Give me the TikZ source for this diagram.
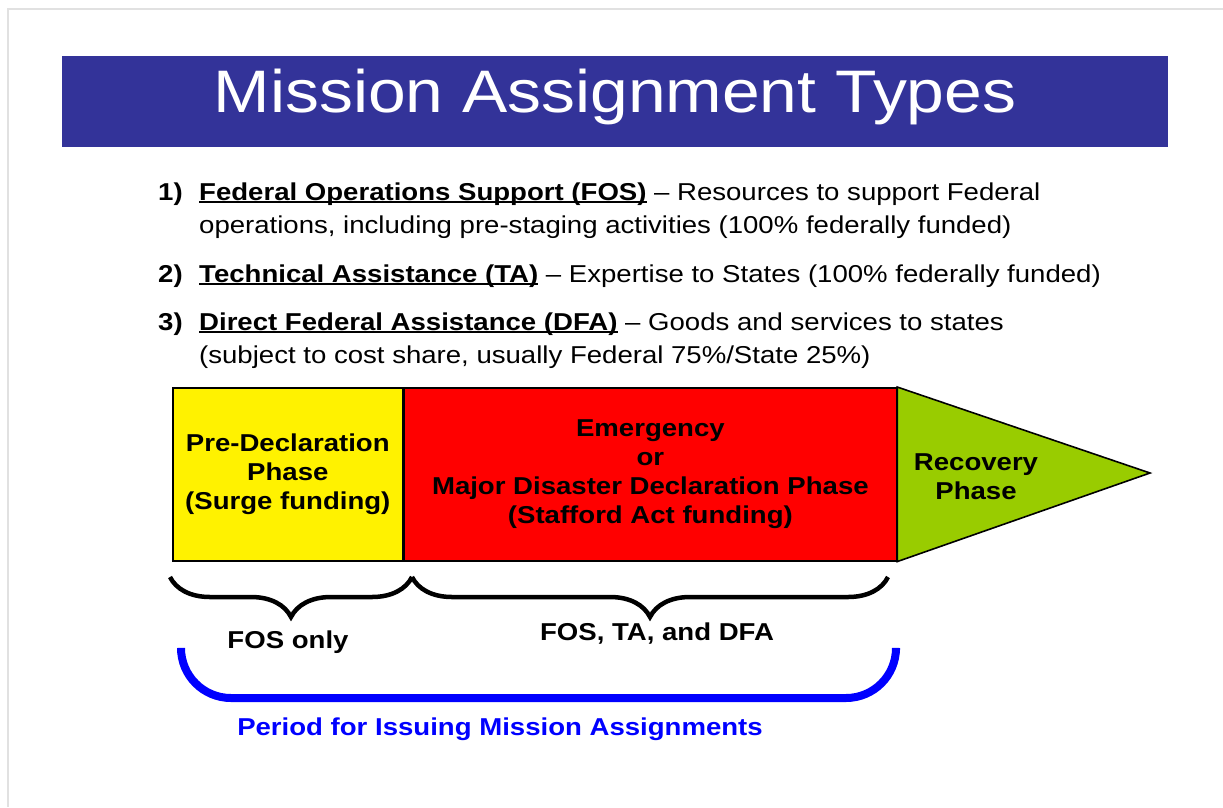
\documentclass[tikz,border=0pt]{standalone}
\usepackage{fontspec}
\setmainfont{Liberation Sans}[FakeStretch=1.13]
\usetikzlibrary{decorations.pathreplacing}
\definecolor{titleblue}{RGB}{51,51,153}
\definecolor{phasegreen}{RGB}{153,204,0}
\definecolor{framegray}{RGB}{225,225,225}
\newcommand\maul[1]{\setbox0\hbox{#1}\rlap{\rule[-3pt]{\wd0}{1.6pt}}\box0}
\newcommand\listfont{\fontsize{24.4}{29}\selectfont}

\begin{document}
\begin{tikzpicture}[x=1pt,y=-1pt]
	\tikzset{phase box/.style={draw,line width=1.6pt,minimum height=173,anchor=north west,align=center,inner sep=0pt,font=\listfont\bfseries},
			list line/.style={anchor=base west,inner sep=0pt,font=\listfont},
			tag/.style={font=\listfont\bfseries,inner sep=0pt},
			phase brace/.style={decorate,decoration={brace,mirror,amplitude=40},line width=4.5pt}}
	\useasboundingbox (0,0) rectangle (1223,807);
	\draw[framegray,line width=2pt] (8,807) -- (8,9) -- (1223,9);
	\node[fill=titleblue,minimum width=1106,minimum height=91,anchor=north west,inner sep=0pt] (titlebar) at (62,56) {};
	\node[text=white,font=\fontsize{60}{60}\selectfont] (title) at (615,97) {Mission Assignment Types};
	\node[list line,font=\listfont\bfseries] (n1) at (158,200) {1)};
	\node[list line] (l1a) at (199,200) {\textbf{\maul{Federal Operations Support (FOS)}} -- Resources to support Federal};
	\node[list line] (l1b) at (199,233) {operations, including pre-staging activities (100\% federally funded)};
	\node[list line,font=\listfont\bfseries] (n2) at (158,282) {2)};
	\node[list line] (l2) at (199,282) {\textbf{\maul{Technical Assistance (TA)}} -- Expertise to States (100\% federally funded)};
	\node[list line,font=\listfont\bfseries] (n3) at (158,330) {3)};
	\node[list line] (l3a) at (199,330) {\textbf{\maul{Direct Federal Assistance (DFA)}} -- Goods and services to states};
	\node[list line] (l3b) at (199,363) {(subject to cost share, usually Federal 75\%/State 25\%)};
	\node[phase box,fill=yellow,minimum width=230] (pre) at (172,387) {Pre-Declaration\\Phase\\(Surge funding)};
	\node[phase box,fill=red,minimum width=492] (emerg) at (pre.north east) {Emergency\\or\\Major Disaster Declaration Phase\\(Stafford Act funding)};
	\coordinate (tip) at (1150,473);
	\draw[line width=1.6pt,fill=phasegreen] (emerg.north east) -- (tip) -- (emerg.south east) -- cycle;
	\node[tag,align=center] (recov) at (976,477) {Recovery\\Phase};
	\coordinate (b1) at (170,577);
	\coordinate (b2) at (412,577);
	\coordinate (b3) at (888,577);
	\draw[phase brace] (b1) -- (b2);
	\draw[phase brace] (b2) -- (b3);
	\node[tag] (fosonly) at (288,642) {FOS only};
	\node[tag] (fosall) at (657,634) {FOS, TA, and DFA};
	\coordinate (p1) at (181,650);
	\coordinate (p2) at (896,650);
	\draw[blue,line width=8pt,rounded corners=50] (p1) -- (p1 |- 0,698) -- (p2 |- 0,698) -- (p2);
	\node[tag,text=blue] (period) at (500,729) {Period for Issuing Mission Assignments};
\end{tikzpicture}
\end{document}
